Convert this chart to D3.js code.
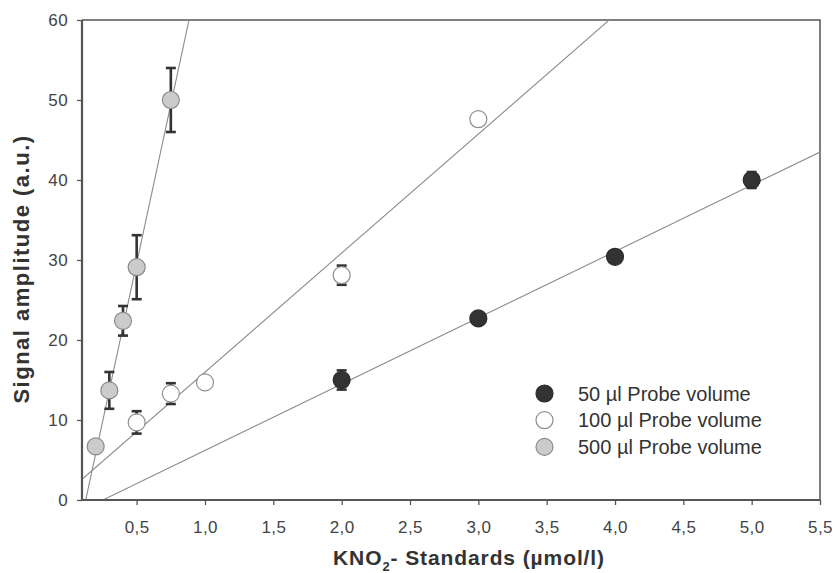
<!DOCTYPE html>
<html>
<head>
<meta charset="utf-8">
<script src="https://cdn.jsdelivr.net/npm/d3@7"></script>
<style>
  html, body { margin: 0; padding: 0; background: #fff; }
  svg { display: block; font-family: "Liberation Sans", Arial, sans-serif; }
</style>
</head>
<body>
<svg id="chart" width="835" height="573"></svg>
<script>
// KNO2 calibration standards (µmol/l) and measured signal amplitude (a.u.) with error
const x50 = [2.0, 3.0, 4.0, 5.0];
const y50 = [15.0, 22.7, 30.4, 40.0];
const e50 = [1.2, 0.5, 0.6, 1.0];

const x100 = [0.5, 0.75, 1.0, 2.0, 3.0];
const y100 = [9.7, 13.3, 14.7, 28.1, 47.6];
const e100 = [1.4, 1.3, 0, 1.2, 0];

const x500 = [0.2, 0.3, 0.4, 0.5, 0.75];
const y500 = [6.7, 13.7, 22.4, 29.1, 50.0];
const e500 = [0, 2.3, 1.85, 4.0, 4.0];

// linear fit of each series: [slope, intercept]
const fit50 = [8.29, -2.10];
const fit100 = [14.88, 1.11];
const fit500 = [79.4, -10.1];

const seriesNames = ["50 µl Probe volume", "100 µl Probe volume", "500 µl Probe volume"];
const xTicks = [0.5, 1.0, 1.5, 2.0, 2.5, 3.0, 3.5, 4.0, 4.5, 5.0, 5.5];
const yTicks = [0, 10, 20, 30, 40, 50, 60];

const series = [
  { name: seriesNames[0], xs: x50, ys: y50, es: e50, fit: fit50, fill: "#333333", stroke: "#2a2a2a" },
  { name: seriesNames[1], xs: x100, ys: y100, es: e100, fit: fit100, fill: "#ffffff", stroke: "#8f8f8f" },
  { name: seriesNames[2], xs: x500, ys: y500, es: e500, fit: fit500, fill: "#cbcbcb", stroke: "#8a8a8a" }
];

const svg = d3.select("#chart");
const pLeft = 82, pRight = 820, pTop = 20, pBottom = 500;

const x = d3.scaleLinear().domain([0.1, 5.5]).range([pLeft, pRight]);
const y = d3.scaleLinear().domain([0, 60]).range([pBottom, pTop]);

const fmt = d => d.toFixed(1).replace(".", ",");

// frame (top and right edges)
svg.append("path")
  .attr("d", `M${pLeft},${pTop}H${pRight}V${pBottom}`)
  .attr("fill", "none").attr("stroke", "#555").attr("stroke-width", 1.5);

// clip region for fit lines
svg.append("clipPath").attr("id", "plotClip")
  .append("rect").attr("x", pLeft).attr("y", pTop).attr("width", pRight - pLeft).attr("height", pBottom - pTop);

// regression lines across the plotted x range
const fitLayer = svg.append("g").attr("clip-path", "url(#plotClip)");
series.forEach(s => {
  const [m, b] = s.fit;
  const x0 = 0.1, x1 = 5.5;
  fitLayer.append("line")
    .attr("x1", x(x0)).attr("y1", y(m * x0 + b))
    .attr("x2", x(x1)).attr("y2", y(m * x1 + b))
    .attr("stroke", "#8c8c8c").attr("stroke-width", 1.1);
});

// error bars
const errLayer = svg.append("g");
const capW = 5;
series.forEach(s => {
  s.xs.forEach((xv, i) => {
    const e = s.es[i];
    if (!e) return;
    const cx = x(xv), yt = y(s.ys[i] + e), yb = y(s.ys[i] - e);
    const g = errLayer.append("g").attr("stroke", "#333").attr("stroke-width", 2.6);
    g.append("line").attr("x1", cx).attr("x2", cx).attr("y1", yt).attr("y2", yb);
    g.append("line").attr("x1", cx - capW).attr("x2", cx + capW).attr("y1", yt).attr("y2", yt);
    g.append("line").attr("x1", cx - capW).attr("x2", cx + capW).attr("y1", yb).attr("y2", yb);
  });
});

// markers
const r = 8.5;
series.forEach(s => {
  svg.append("g").selectAll("circle")
    .data(s.xs.map((xv, i) => [xv, s.ys[i]]))
    .join("circle")
    .attr("cx", d => x(d[0])).attr("cy", d => y(d[1])).attr("r", r)
    .attr("fill", s.fill).attr("stroke", s.stroke).attr("stroke-width", 1.2);
});

// axes
const xAxis = svg.append("g").attr("transform", `translate(0,${pBottom})`)
  .call(d3.axisBottom(x).tickValues(xTicks).tickFormat(fmt).tickSize(5).tickPadding(16).tickSizeOuter(0));
const yAxis = svg.append("g").attr("transform", `translate(${pLeft},0)`)
  .call(d3.axisLeft(y).tickValues(yTicks).tickFormat(d3.format("d")).tickSize(5).tickPadding(9).tickSizeOuter(0));

[xAxis, yAxis].forEach(a => {
  a.select(".domain").attr("stroke", "#555").attr("stroke-width", 2.2);
  a.selectAll(".tick line").attr("stroke", "#555").attr("stroke-width", 1.3);
  a.selectAll(".tick text")
    .attr("fill", "#444").style("font-size", "17px").style("letter-spacing", "0.4px")
    .style("font-family", "'Liberation Sans', Arial, sans-serif");
});
xAxis.select(".domain").attr("d", `M${pLeft},0H${pRight}`);
yAxis.select(".domain").attr("d", `M0,${pTop}V${pBottom}`);

// legend
const legend = svg.append("g");
series.forEach((s, i) => {
  const ly = 393.5 + i * 26.7;
  legend.append("circle").attr("cx", 544.5).attr("cy", ly).attr("r", 8.5)
    .attr("fill", s.fill).attr("stroke", s.stroke).attr("stroke-width", 1.2);
  legend.append("text").attr("x", 578).attr("y", ly).attr("dy", "0.36em")
    .attr("fill", "#333").style("font-size", "20px").text(s.name);
});

// axis titles
const xt = svg.append("text")
  .attr("x", 469).attr("y", 565).attr("text-anchor", "middle")
  .attr("fill", "#333").style("font-size", "21px").style("font-weight", "bold")
  .style("letter-spacing", "0.9px");
xt.append("tspan").text("KNO");
xt.append("tspan").attr("dy", 6).style("font-size", "13px").text("2");
xt.append("tspan").attr("dy", -6).text("- Standards (µmol/l)");

svg.append("text")
  .attr("transform", `translate(29,269) rotate(-90)`)
  .attr("text-anchor", "middle")
  .attr("fill", "#333").style("font-size", "22px").style("font-weight", "bold")
  .style("letter-spacing", "1.5px")
  .text("Signal amplitude (a.u.)");
</script>
</body>
</html>
